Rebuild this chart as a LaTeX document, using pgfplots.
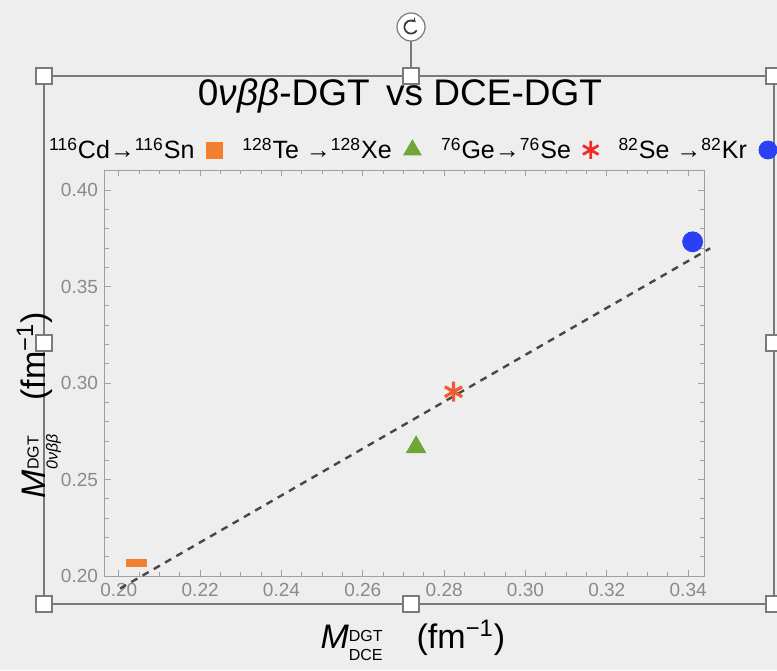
\documentclass[border=0pt]{standalone}
\usepackage{fontspec}
\setmainfont{Liberation Sans}
\usepackage{pgfplots}
\pgfplotsset{compat=1.18}
\usetikzlibrary{arrows.meta}

\definecolor{bgC}{HTML}{EEEEEE}
\definecolor{frameC}{HTML}{7A7A7A}
\definecolor{axisC}{HTML}{A0A0A0}
\definecolor{tickC}{HTML}{8A8A8A}
\definecolor{cOrange}{HTML}{F07F2E}
\definecolor{cGreen}{HTML}{6EA733}
\definecolor{cRed}{HTML}{F02C2C}
\definecolor{cStar}{HTML}{EF5B35}
\definecolor{cBlue}{HTML}{2B3FF5}

% M with DGT on top and #1 below, as one stacked box
\newcommand{\Mlab}[1]{\textit{M}\raisebox{-0.15ex}{\fontsize{8}{9.5}\selectfont\begin{tabular}[c]{@{}l@{}}DGT\\#1\end{tabular}}}

\begin{document}
\begin{tikzpicture}
\clip (0,0) rectangle (388.5pt,335pt);
\fill[bgC] (0,0) rectangle (388.5pt,335pt);

% selection frame of the notebook
\draw[frameC, line width=0.8pt] (22pt,33pt) rectangle (387pt,297pt);
\draw[frameC, line width=0.6pt] (205.5pt,297pt) -- (205.5pt,314.5pt);
\draw[frameC, fill=white, line width=0.6pt] (205.5pt,321.5pt) circle (7pt);
\draw[darkgray, line width=0.9pt, -{Stealth[length=2.2pt,width=3pt]}]
  ([shift={(330:3.3pt)}]205.5pt,321.5pt) arc[start angle=330, end angle=45, radius=3.3pt];

\node[font=\fontsize{18.5}{19}\selectfont] at (200pt,287pt) {0\textit{νββ}-DGT\, vs DCE-DGT};

\begin{axis}[
  at={(52.5pt,47pt)}, anchor=south west,
  scale only axis, width=299.5pt, height=203pt,
  xmin=0.1966, xmax=0.3439, ymin=0.2, ymax=0.4104,
  xtick={0.20,0.22,0.24,0.26,0.28,0.30,0.32,0.34},
  ytick={0.20,0.25,0.30,0.35,0.40},
  minor x tick num=3, minor y tick num=4,
  xticklabel style={/pgf/number format/.cd, fixed, fixed zerofill, precision=2},
  yticklabel style={/pgf/number format/.cd, fixed, fixed zerofill, precision=2},
  /pgf/number format/assume math mode=true,
  tick label style={font=\fontsize{9.5}{10}\selectfont, text=tickC},
  axis line style={axisC, line width=0.5pt},
  tick style={axisC, line width=0.4pt},
  tick align=inside,
  major tick length=3pt, minor tick length=1.8pt,
  clip=false,
  label style={font=\fontsize{17}{18}\selectfont},
  xlabel={\Mlab{DCE}\quad(fm\textsuperscript{−1})},
  xlabel style={at={(axis description cs:0.514,-0.165)}, anchor=center},
  ylabel={\Mlab{\textit{0νββ}}\quad(fm\textsuperscript{−1})},
  ylabel style={at={(axis description cs:-0.1085,0.421)}, anchor=center},
  legend columns=4, legend plot pos=right,
  legend style={draw=none, fill=none, at={(axis description cs:0.5109,1.0493)}, anchor=center,
    font=\fontsize{12.5}{13}\selectfont,
    /tikz/every odd column/.append style={column sep=4pt},
    /tikz/every even column/.append style={column sep=8pt}},
]
  % fitted line
  \addplot[forget plot, dash pattern=on 3.5pt off 3pt, line width=1.2pt, color=black!72]
    coordinates {(0.2003,0.1935) (0.3454,0.3698)};
  % data points
  \addplot[forget plot, only marks, mark=square*, color=cOrange, mark size=5pt, mark options={yscale=0.35}]
    coordinates {(0.2044,0.2069)};
  \addplot[forget plot, only marks, mark=triangle*, color=cGreen, mark size=5.5pt]
    coordinates {(0.2731,0.2668)};
  \addplot[forget plot, only marks, mark=asterisk, color=cStar, mark size=5pt, line width=1.6pt]
    coordinates {(0.2823,0.2955)};
  \addplot[forget plot, only marks, mark=*, color=cBlue, mark size=5pt]
    coordinates {(0.3411,0.3732)};

  \addlegendimage{only marks, mark=square*, color=cOrange, mark size=4pt}
  \addlegendentry{\textsuperscript{116}Cd→\textsuperscript{116}Sn}
  \addlegendimage{only marks, mark=triangle*, color=cGreen, mark size=5pt}
  \addlegendentry{\textsuperscript{128}Te →\textsuperscript{128}Xe}
  \addlegendimage{only marks, mark=asterisk, color=cRed, mark size=4.5pt, line width=1.4pt}
  \addlegendentry{\textsuperscript{76}Ge→\textsuperscript{76}Se}
  \addlegendimage{only marks, mark=*, color=cBlue, mark size=4.5pt}
  \addlegendentry{\textsuperscript{82}Se →\textsuperscript{82}Kr}
\end{axis}

% selection handles
\foreach \x/\y in {22/33, 205.5/33, 387/33, 22/163.5, 387/163.5, 22/297, 205.5/297, 387/297}
  \draw[frameC, fill=white, line width=0.6pt] ({\x pt-4pt},{\y pt-4pt}) rectangle ++(8pt,8pt);
\end{tikzpicture}
\end{document}
